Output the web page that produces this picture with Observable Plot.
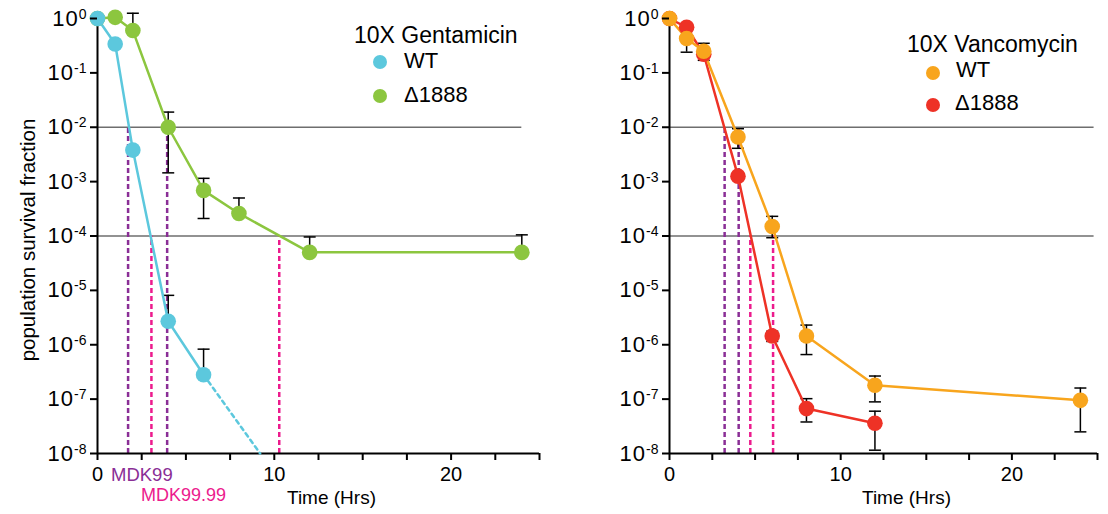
<!DOCTYPE html>
<html><head><meta charset="utf-8">
<script src="https://cdn.jsdelivr.net/npm/d3@7"></script>
<script src="https://cdn.jsdelivr.net/npm/@observablehq/plot@0.6"></script>
<style>
body{margin:0;background:#fff;}
#wrap{position:relative;width:1108px;height:514px;overflow:hidden;font-family:"Liberation Sans",Arial,Helvetica,sans-serif;color:#000;}
.panel{position:absolute;top:0;}
.lbl{position:absolute;white-space:nowrap;line-height:1;}
.ldot{position:absolute;border-radius:50%;}
</style></head><body><div id="wrap"></div>
<script>
// ---------- data ----------
const gentTimeWT = [0, 1, 2, 4, 6];
const gentWT     = [1, 0.34, 0.0038, 2.7e-6, 2.8e-7];
const gentWTHi   = [null, null, null, 8.1e-6, 8.3e-7];
const gentWTLo   = [null, null, null, null, null];
const gentWTExtrapTime = [6, 9.2];
const gentWTExtrap     = [2.8e-7, 1e-8];

const gentTimeMut = [0, 1, 2, 4, 6, 8, 12, 24];
const gentMut     = [1, 1.05, 0.6, 0.01, 6.9e-4, 2.6e-4, 5.0e-5, 5.0e-5];
const gentMutHi   = [null, null, 1.25, 0.019, 1.15e-3, 5.0e-4, 9.6e-5, 1.05e-4];
const gentMutLo   = [null, null, null, 1.45e-3, 2.1e-4, null, null, null];

const vancTimeWT = [0, 1, 2, 4, 6, 8, 12, 24];
const vancWT     = [1, 0.43, 0.25, 0.0066, 1.5e-4, 1.45e-6, 1.8e-7, 9.5e-8];
const vancWTHi   = [null, 0.62, 0.35, 0.0094, 2.3e-4, 2.3e-6, 2.66e-7, 1.6e-7];
const vancWTLo   = [null, 0.24, 0.17, 0.0041, 9.3e-5, 6.6e-7, 8.9e-8, 2.5e-8];

const vancTimeMut = [0, 1, 2, 4, 6, 8, 12];
const vancMut     = [1, 0.69, 0.22, 1.26e-3, 1.45e-6, 6.7e-8, 3.6e-8];
const vancMutHi   = [null, null, null, null, 1.77e-6, 1.02e-7, 6.0e-8];
const vancMutLo   = [null, null, null, null, 1.15e-6, 3.8e-8, 1.15e-8];

// MDK99 (1e-2) and MDK99.99 (1e-4) crossing times
const gentMdkTime  = [1.73, 3.05, 3.94, 10.28];
const gentMdkLevel = [1e-2, 1e-4, 1e-2, 1e-4];
const vancMdkTime  = [3.22, 4.04, 4.72, 6.05];
const vancMdkLevel = [1e-2, 1e-2, 1e-4, 1e-4];

const thresholds = [1e-2, 1e-4];
const yTicks = [1, 1e-1, 1e-2, 1e-3, 1e-4, 1e-5, 1e-6, 1e-7, 1e-8];
const xTicks = [0, 2.5, 5, 7.5, 10, 12.5, 15, 17.5, 20, 22.5, 25];
const xTickLabels = [0, 10, 20];
const legendGent = ["10X Gentamicin", "WT", "Δ1888"];
const legendVanc = ["10X Vancomycin", "WT", "Δ1888"];
const mdkLabels = ["MDK99", "MDK99.99"];
const xTitle = "Time (Hrs)";
const yTitle = "population survival fraction";

// ---------- styles ----------
const C = {cyan:"#5cc8dd", green:"#8cc63f", orange:"#f8a51d", red:"#ee3226", purple:"#8a2e96", magenta:"#ec1b8d", grid:"#6e6e6e"};
const FONT = '"Liberation Sans", Arial, Helvetica, sans-serif';

const capSymbol = {draw(ctx, size){ const r = Math.sqrt(size/Math.PI); ctx.moveTo(-r,0); ctx.lineTo(r,0); }};
const rows = (ts, vs, hi, lo) => ts.map((t,i)=>({t, v:vs[i], hi:hi[i], lo:lo[i]}));

function panel({a, b, ca, cb, mdkT, mdkL, gridEnd, marginLeft, marginRight, extrap}) {
  const mdk = mdkT.map((t,i)=>({t, level: mdkL[i]}));
  const all = a.concat(b);
  const hi = all.filter(d=>d.hi!=null), lo = all.filter(d=>d.lo!=null);
  const marks = [
    Plot.ruleY(thresholds, {x1: 0, x2: gridEnd, stroke: C.grid, strokeWidth: 1.5}),
    Plot.ruleX(mdk.filter(d=>d.level===1e-2), {x:"t", y1: 1e-8, y2:"level", stroke: C.purple, strokeWidth: 2.5, strokeDasharray:"5,3"}),
    Plot.ruleX(mdk.filter(d=>d.level===1e-4), {x:"t", y1: 1e-8, y2:"level", stroke: C.magenta, strokeWidth: 2.5, strokeDasharray:"5,3"}),
    Plot.ruleX([0], {y1: 1e-8, y2: 1, stroke:"black", strokeWidth: 2}),
    Plot.ruleY([1e-8], {stroke:"black", strokeWidth: 2}),
    Plot.ruleX(hi, {x:"t", y1:"v", y2:"hi", stroke:"black", strokeWidth: 1.5}),
    Plot.ruleX(lo, {x:"t", y1:"v", y2:"lo", stroke:"black", strokeWidth: 1.5}),
    Plot.dot(hi, {x:"t", y:"hi", symbol: capSymbol, r: 6, stroke:"black", strokeWidth: 1.5, fill:"none"}),
    Plot.dot(lo, {x:"t", y:"lo", symbol: capSymbol, r: 6, stroke:"black", strokeWidth: 1.5, fill:"none"}),
    Plot.line(b, {x:"t", y:"v", stroke: cb, strokeWidth: 2.5}),
    Plot.line(a, {x:"t", y:"v", stroke: ca, strokeWidth: 2.5}),
  ];
  if (extrap) marks.push(Plot.line(extrap, {x:"t", y:"v", stroke: ca, strokeWidth: 2.5, strokeDasharray:"4,4"}));
  marks.push(
    Plot.dot(b, {x:"t", y:"v", r: 7.8, fill: cb}),
    Plot.dot(a, {x:"t", y:"v", r: 7.8, fill: ca}),
    Plot.axisY(yTicks, {tickSize: 7, tickPadding: 4, fontSize: 22, strokeWidth: 2, label: null,
      tickFormat: d => `10^${Math.round(Math.log10(d))}`}),
    Plot.axisX(xTicks, {tickSize: 7, tickPadding: 6, fontSize: 20, strokeWidth: 2, label: null,
      tickFormat: d => xTickLabels.includes(d) ? String(d) : ""})
  );
  const svg = Plot.plot({
    width: 554, height: 514, marginTop: 18, marginBottom: 61, marginLeft, marginRight,
    x: {domain: [0, 25]},
    y: {type: "log", domain: [1e-8, 1]},
    style: {fontFamily: FONT, overflow: "visible", background: "transparent", color: "black"},
    marks
  });
  svg.querySelectorAll('g[aria-label="y-axis tick label"] text').forEach(t => {
    const m = /^10\^(-?\d+)$/.exec(t.textContent.trim());
    if (!m) return;
    t.textContent = "";
    const base = document.createElementNS("http://www.w3.org/2000/svg","tspan");
    base.textContent = "10"; base.setAttribute("letter-spacing","1");
    const ex = document.createElementNS("http://www.w3.org/2000/svg","tspan");
    ex.textContent = m[1]; ex.setAttribute("dy","-0.5em"); ex.setAttribute("font-size","14");
    t.appendChild(base); t.appendChild(ex);
  });
  return svg;
}

const wrap = document.getElementById("wrap");
const left = panel({
  a: rows(gentTimeWT, gentWT, gentWTHi, gentWTLo), b: rows(gentTimeMut, gentMut, gentMutHi, gentMutLo),
  ca: C.cyan, cb: C.green, mdkT: gentMdkTime, mdkL: gentMdkLevel, gridEnd: 24,
  marginLeft: 97, marginRight: 15,
  extrap: gentWTExtrapTime.map((t,i)=>({t, v: gentWTExtrap[i]}))
});
left.classList.add("panel"); left.style.left = "0px";
const right = panel({
  a: rows(vancTimeWT, vancWT, vancWTHi, vancWTLo), b: rows(vancTimeMut, vancMut, vancMutHi, vancMutLo),
  ca: C.orange, cb: C.red, mdkT: vancMdkTime, mdkL: vancMdkLevel, gridEnd: 24.8,
  marginLeft: 115, marginRight: 11
});
right.classList.add("panel"); right.style.left = "554px";
wrap.appendChild(left); wrap.appendChild(right);

function label(text, x, y, size, color, extra) {
  const d = document.createElement("div");
  d.className = "lbl"; d.textContent = text;
  d.style.left = x + "px"; d.style.top = y + "px"; d.style.fontSize = size + "px";
  if (color) d.style.color = color;
  if (extra) Object.assign(d.style, extra);
  wrap.appendChild(d); return d;
}
function ldot(x, y, r, color) {
  const d = document.createElement("div");
  d.className = "ldot";
  Object.assign(d.style, {left:(x-r)+"px", top:(y-r)+"px", width:(2*r)+"px", height:(2*r)+"px", background: color});
  wrap.appendChild(d);
}
// legends
label(legendGent[0], 354, 24, 23);
ldot(380, 62, 7, C.cyan);  label(legendGent[1], 404, 50, 22);
ldot(380, 96, 7, C.green); label(legendGent[2], 404, 84, 22);
label(legendVanc[0], 907, 33, 23);
ldot(933, 72.5, 7, C.orange); label(legendVanc[1], 956, 59, 22);
ldot(933, 105, 7, C.red);     label(legendVanc[2], 955, 92, 22);
// axis titles
label(xTitle, 287, 488, 19);
label(xTitle, 862, 488, 19);
label(yTitle, 28, 240, 20.5, null, {transform:"translate(-50%,-50%) rotate(-90deg)"});
// MDK labels
label(mdkLabels[0], 111, 466, 18.5, C.purple);
label(mdkLabels[1], 141, 486, 18, C.magenta);
</script></body></html>
